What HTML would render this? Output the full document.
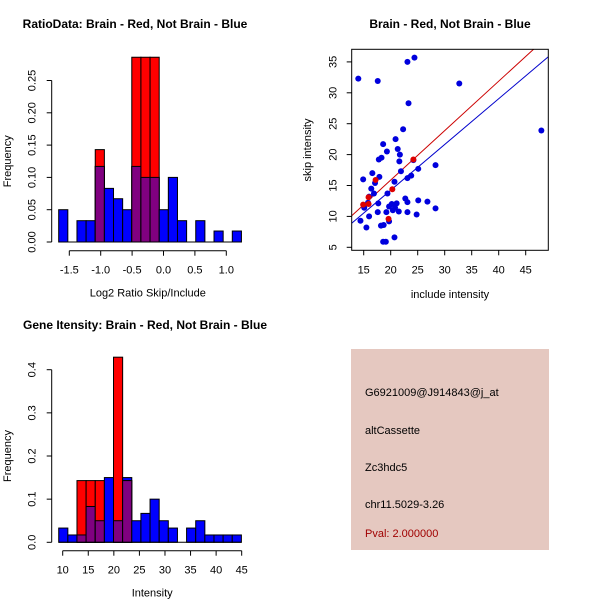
<!DOCTYPE html>
<html><head><meta charset="utf-8"><style>
body{margin:0;background:#fff;}
svg{display:block;font-family:"Liberation Sans",sans-serif;}
</style></head><body>
<svg id="c" width="600" height="600" viewBox="0 0 600 600">
<rect width="600" height="600" fill="#fff"/>
<text x="135" y="28" font-size="12" font-weight="bold" text-anchor="middle">RatioData: Brain - Red, Not Brain - Blue</text>
<text x="450" y="28" font-size="12" font-weight="bold" text-anchor="middle">Brain - Red, Not Brain - Blue</text>
<text x="145" y="329" font-size="12" font-weight="bold" text-anchor="middle">Gene Itensity: Brain - Red, Not Brain - Blue</text>
<g id="h1"></g>
<g id="sc"></g>
<g id="h2"></g>
<g>
<rect x="351" y="349" width="198" height="201" fill="#e5c8c0"/>
<text x="365" y="396" font-size="11">G6921009@J914843@j_at</text>
<text x="365" y="434" font-size="11">altCassette</text>
<text x="365" y="471" font-size="11">Zc3hdc5</text>
<text x="365" y="508" font-size="11">chr11.5029-3.26</text>
<text x="365" y="537" font-size="11" fill="#a00000">Pval: 2.000000</text>
</g>
</svg>
<script>
// Ratio histogram data
const ratioBlue=[0.05,0,0.033,0.033,0.117,0.083,0.067,0.05,0.117,0.1,0.1,0.05,0.1,0.033,0,0.033,0,0.017,0,0.017];
const ratioRed=[0,0,0,0,0.143,0,0,0,0.286,0.286,0.286,0,0,0,0,0,0,0,0,0];
const ratioXTicks=[-1.5,-1.0,-0.5,0.0,0.5,1.0];
const ratioYTicks=[0,0.05,0.10,0.15,0.20,0.25];
// Intensity histogram data
const intBlue=[0.033,0.017,0.017,0.083,0.05,0.15,0.05,0.15,0.05,0.067,0.1,0.05,0.033,0,0.033,0.05,0.017,0.017,0.017,0.017];
const intRed=[0,0,0.143,0.143,0.143,0,0.429,0.143,0,0,0,0,0,0,0,0,0,0,0,0];
const intXTicks=[10,15,20,25,30,35,40,45];
const intYTicks=[0,0.1,0.2,0.3,0.4];
// Scatter data
const blueX=[14.0,17.6,23.1,24.4,32.7,23.3,47.9,22.3,18.6,20.9,19.3,21.3,21.7,18.3,17.8,21.6,21.9,25.1,28.3,24.2,14.9,16.6,17.9,16.4,17.1,16.9,16.0,23.1,23.8,20.7,19.4,17.7,15.8,15.1,22.7,23.1,25.1,26.8,28.3,20.2,21.1,20.8,21.5,20.4,19.7,17.6,19.2,23.1,24.8,16.0,14.4,19.7,18.2,18.7,15.5,20.7,18.6,19.1];
const blueY=[32.3,31.9,35.0,35.7,31.5,28.3,23.9,24.1,21.7,22.5,20.5,20.9,20.0,19.5,19.2,18.9,17.3,17.7,18.3,19.1,16.0,17.0,16.4,14.5,15.4,13.7,13.2,16.2,16.6,15.6,13.7,12.1,12.2,11.4,12.9,12.3,12.6,12.4,11.3,12.0,12.1,11.4,10.8,11.0,11.6,10.7,10.7,10.7,10.3,10.0,9.3,9.2,8.5,8.6,8.2,6.6,5.9,5.9];
const redX=[14.9,15.9,17.2,20.3,19.6,15.9,24.2];
const redY=[11.9,13.1,15.9,14.4,9.6,12.0,19.2];
const scXTicks=[15,20,25,30,35,40,45];
const scYTicks=[5,10,15,20,25,30,35];
const redLine=[0.80,-0.12];   // slope, intercept
const blueLine=[0.74,-0.56];

const NS="http://www.w3.org/2000/svg";
function mk(p,t,a){const e=document.createElementNS(NS,t);for(const k in a)e.setAttribute(k,a[k]);p.appendChild(e);return e;}

function hist(g,o){
  const sx=v=>o.x0+(v-o.xv0)*o.pxu, sy=v=>o.y0-v*o.pyu;
  for(let i=0;i<o.blue.length;i++){
    const l=sx(o.start+i*o.w), r=sx(o.start+(i+1)*o.w);
    const b=o.blue[i], rd=o.red[i];
    if(b>0){const e=mk(g,'rect',{x:l,y:sy(b),width:r-l,height:sy(0)-sy(b),fill:'#0000ff',stroke:'#000','stroke-width':1});
      
      }
    if(rd>0){const e=mk(g,'rect',{x:l,y:sy(rd),width:r-l,height:sy(0)-sy(rd),fill:'#ff0000',stroke:'#000','stroke-width':1});
      
      }
    if(b>0&&rd>0){const m=Math.min(b,rd);const e=mk(g,'rect',{x:l,y:sy(m),width:r-l,height:sy(0)-sy(m),fill:'#800080',stroke:'#000','stroke-width':1});
      
      }
  }
  mk(g,'line',{x1:sx(o.start),x2:sx(o.start+o.blue.length*o.w),y1:sy(0),y2:sy(0),stroke:'#000'});
  const ya=o.yt;
  mk(g,'line',{x1:o.yx,x2:o.yx,y1:sy(ya[0]),y2:sy(ya[ya.length-1]),stroke:'#000'});
  ya.forEach(v=>{mk(g,'line',{x1:o.yx,x2:o.yx-5,y1:sy(v),y2:sy(v),stroke:'#000'});
    const t=mk(g,'text',{x:o.yx-16,y:sy(v),'font-size':11,'text-anchor':'middle',transform:`rotate(-90 ${o.yx-16} ${sy(v)})`});
    t.textContent=v.toFixed(o.yd);
    
    });
  const xa=o.xt;
  mk(g,'line',{x1:sx(xa[0]),x2:sx(xa[xa.length-1]),y1:o.xy,y2:o.xy,stroke:'#000'});
  xa.forEach(v=>{mk(g,'line',{x1:sx(v),x2:sx(v),y1:o.xy,y2:o.xy+5,stroke:'#000'});
    const t=mk(g,'text',{x:sx(v),y:o.xy+23,'font-size':11,'text-anchor':'middle'});
    t.textContent=o.xd?v.toFixed(o.xd):v;
    
    });
  const xl=mk(g,'text',{x:(sx(xa[0])+sx(xa[xa.length-1]))/2,y:o.xy+46,'font-size':11,'text-anchor':'middle'});
  xl.textContent=o.xlab;
  
  
  const yc=(sy(ya[0])+sy(ya[ya.length-1]))/2;
  const yl=mk(g,'text',{x:11,y:yc,'font-size':11,'text-anchor':'middle',transform:`rotate(-90 11 ${yc})`});
  yl.textContent='Frequency';
  
  
}
hist(document.getElementById('h1'),{blue:ratioBlue,red:ratioRed,xt:ratioXTicks,yt:ratioYTicks,x0:69.3,xv0:-1.5,pxu:62.8,y0:242,pyu:646,start:-1.669,w:0.1455,yx:51.7,xy:250.7,yd:2,xd:1,xlab:'Log2 Ratio Skip/Include'});
hist(document.getElementById('h2'),{blue:intBlue,red:intRed,xt:intXTicks,yt:intYTicks,x0:62.7,xv0:10,pxu:5.114,y0:542.3,pyu:431.5,start:9.22,w:1.786,yx:51.7,xy:550.7,yd:1,xd:0,xlab:'Intensity'});

(function(){
  const g=document.getElementById('sc');
  const L=351.7,R=548.3,T=49.3,B=250.3;
  const sx=v=>363.7+(v-15)*5.4, sy=v=>247.3-(v-5)*6.18;
  const clip=mk(g,'clipPath',{id:'scclip'});mk(clip,'rect',{x:L,y:T,width:R-L,height:B-T});
  const xmin=(L-363.7)/5.4+15, xmax=(R-363.7)/5.4+15;
  [[redLine,'#cc0000','red-fit-line'],[blueLine,'#0000cc','blue-fit-line']].forEach(([ln,c,n])=>{
    const e=mk(g,'line',{x1:sx(xmin),y1:sy(ln[0]*xmin+ln[1]),x2:sx(xmax),y2:sy(ln[0]*xmax+ln[1]),stroke:c,'stroke-width':1,'clip-path':'url(#scclip)'});
    
    
  });
  blueX.forEach((x,i)=>{const e=mk(g,'circle',{cx:sx(x),cy:sy(blueY[i]),r:3,fill:'#0000dd'});
    
    });
  redX.forEach((x,i)=>{const e=mk(g,'circle',{cx:sx(x),cy:sy(redY[i]),r:3,fill:'#dd0000'});
    
    });
  mk(g,'rect',{x:L,y:T,width:R-L,height:B-T,fill:'none',stroke:'#000'});
  scXTicks.forEach(v=>{mk(g,'line',{x1:sx(v),x2:sx(v),y1:B,y2:B+5,stroke:'#000'});
    const t=mk(g,'text',{x:sx(v),y:B+23,'font-size':11,'text-anchor':'middle'});t.textContent=v;
    
    });
  scYTicks.forEach(v=>{mk(g,'line',{x1:L,x2:L-5,y1:sy(v),y2:sy(v),stroke:'#000'});
    const t=mk(g,'text',{x:L-15,y:sy(v),'font-size':11,'text-anchor':'middle',transform:`rotate(-90 ${L-15} ${sy(v)})`});t.textContent=v;
    
    });
  const xl=mk(g,'text',{x:(L+R)/2,y:298,'font-size':11,'text-anchor':'middle'});xl.textContent='include intensity';
  
  
  const yl=mk(g,'text',{x:311,y:150,'font-size':11,'text-anchor':'middle',transform:'rotate(-90 311 150)'});yl.textContent='skip intensity';
  
  
})();
</script>
</body></html>
